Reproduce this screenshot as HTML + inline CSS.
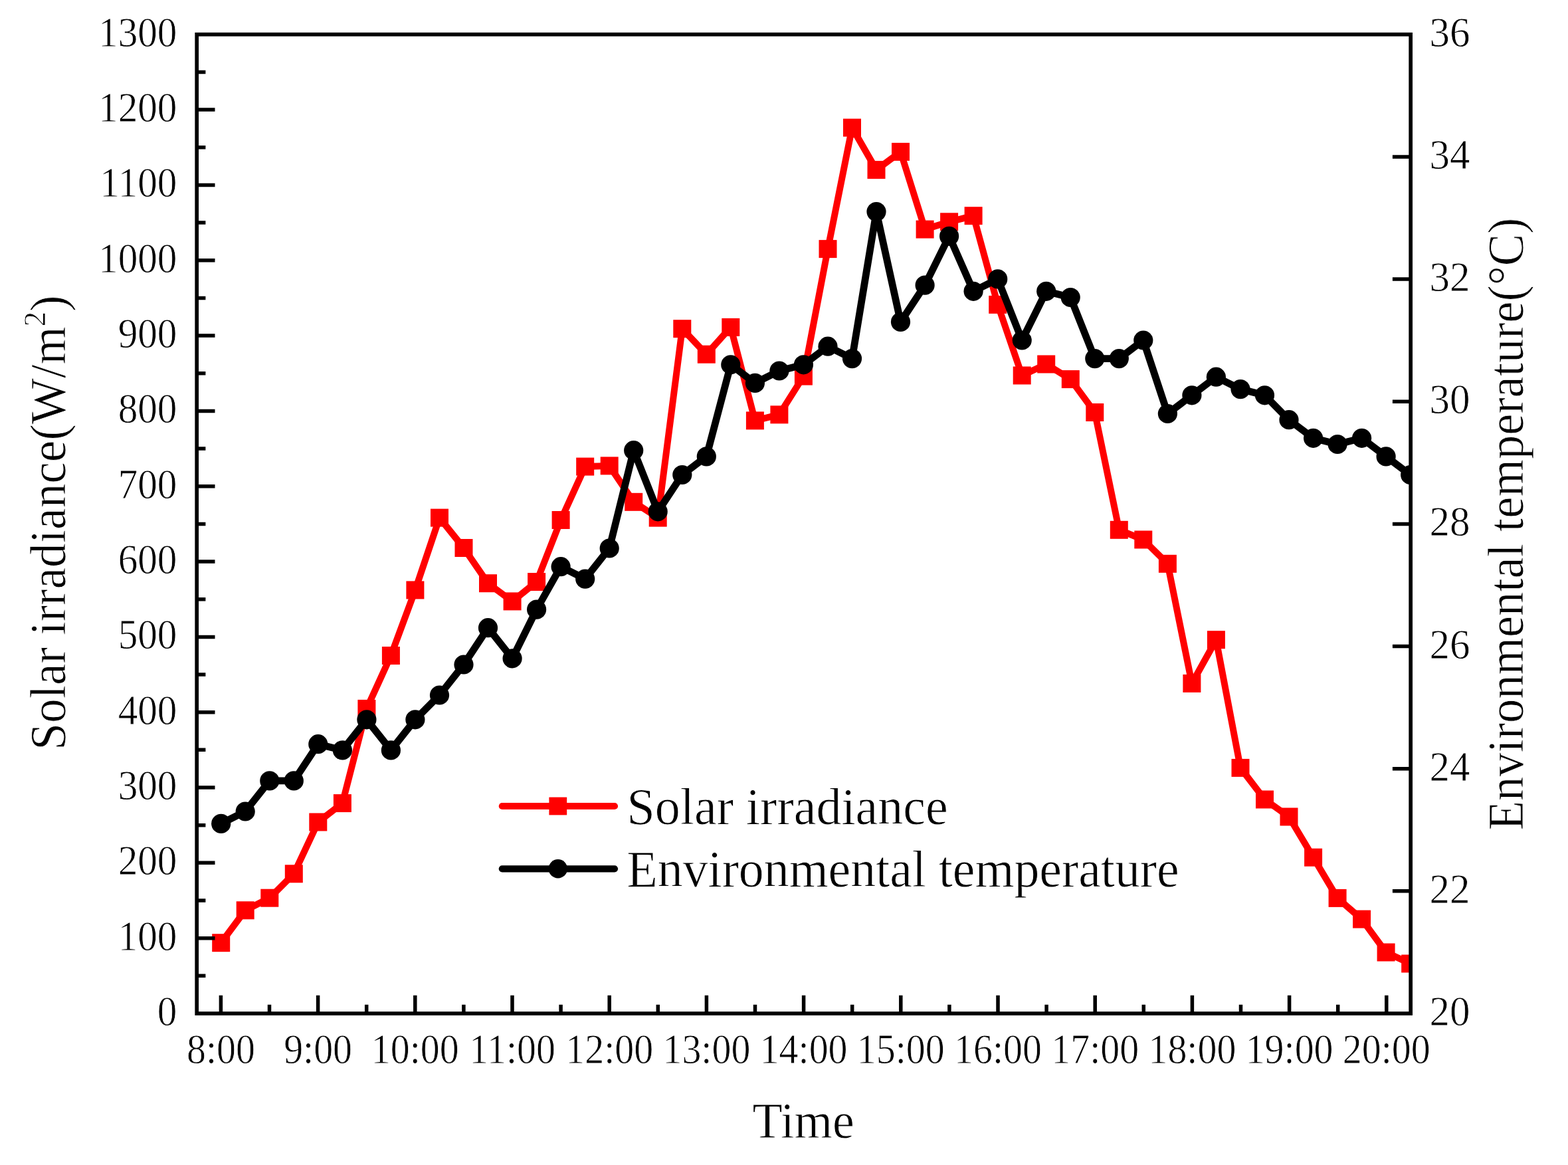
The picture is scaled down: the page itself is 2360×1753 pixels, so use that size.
<!DOCTYPE html>
<html lang="en"><head><meta charset="utf-8"><title>Solar irradiance and environmental temperature</title>
<style>html,body{margin:0;padding:0;background:#fff;}body{width:2360px;height:1753px;overflow:hidden;}svg{display:block;}text{font-family:"Liberation Serif",serif;fill:#000;}</style>
</head><body>
<svg width="2360" height="1753" viewBox="0 0 2360 1753" role="img" aria-label="Solar irradiance and environmental temperature versus time">
<rect x="0" y="0" width="2360" height="1753" fill="#fff"/>
<defs><clipPath id="plot"><rect x="296.2" y="51.8" width="1826.9999999999998" height="1473.2"/></clipPath></defs>
<g clip-path="url(#plot)">
<polyline fill="none" stroke="#ff0000" stroke-width="10.0" stroke-linejoin="round" stroke-linecap="round" points="332.7,1418.7 369.2,1369.8 405.8,1351.2 442.3,1314.8 478.8,1237.0 515.4,1208.6 551.9,1066.4 588.4,986.5 624.9,887.9 661.5,779.1 698.0,824.5 734.5,877.7 771.1,904.9 807.6,875.5 844.1,782.5 880.7,702.1 917.2,700.9 953.7,755.3 990.2,779.1 1026.8,494.7 1063.3,533.2 1099.8,492.4 1136.4,632.9 1172.9,623.9 1209.4,566.1 1246.0,374.6 1282.5,192.1 1319.0,255.6 1355.5,228.4 1392.1,345.1 1428.6,333.8 1465.1,324.7 1501.7,458.4 1538.2,565.0 1574.7,548.0 1611.2,570.6 1647.8,620.5 1684.3,797.3 1720.8,812.0 1757.4,848.3 1793.9,1028.4 1830.4,962.7 1867.0,1155.4 1903.5,1203.0 1940.0,1229.0 1976.6,1290.2 2013.1,1351.4 2049.6,1383.1 2086.1,1433.0 2122.7,1450.0"/>
<g fill="#ff0000"><rect x="319.2" y="1405.2" width="27.0" height="27.0"/><rect x="355.7" y="1356.3" width="27.0" height="27.0"/><rect x="392.3" y="1337.7" width="27.0" height="27.0"/><rect x="428.8" y="1301.3" width="27.0" height="27.0"/><rect x="465.3" y="1223.5" width="27.0" height="27.0"/><rect x="501.9" y="1195.1" width="27.0" height="27.0"/><rect x="538.4" y="1052.9" width="27.0" height="27.0"/><rect x="574.9" y="973.0" width="27.0" height="27.0"/><rect x="611.4" y="874.4" width="27.0" height="27.0"/><rect x="648.0" y="765.6" width="27.0" height="27.0"/><rect x="684.5" y="811.0" width="27.0" height="27.0"/><rect x="721.0" y="864.2" width="27.0" height="27.0"/><rect x="757.6" y="891.4" width="27.0" height="27.0"/><rect x="794.1" y="862.0" width="27.0" height="27.0"/><rect x="830.6" y="769.0" width="27.0" height="27.0"/><rect x="867.2" y="688.6" width="27.0" height="27.0"/><rect x="903.7" y="687.4" width="27.0" height="27.0"/><rect x="940.2" y="741.8" width="27.0" height="27.0"/><rect x="976.7" y="765.6" width="27.0" height="27.0"/><rect x="1013.3" y="481.2" width="27.0" height="27.0"/><rect x="1049.8" y="519.7" width="27.0" height="27.0"/><rect x="1086.3" y="478.9" width="27.0" height="27.0"/><rect x="1122.9" y="619.4" width="27.0" height="27.0"/><rect x="1159.4" y="610.4" width="27.0" height="27.0"/><rect x="1195.9" y="552.6" width="27.0" height="27.0"/><rect x="1232.5" y="361.1" width="27.0" height="27.0"/><rect x="1269.0" y="178.6" width="27.0" height="27.0"/><rect x="1305.5" y="242.1" width="27.0" height="27.0"/><rect x="1342.0" y="214.9" width="27.0" height="27.0"/><rect x="1378.6" y="331.6" width="27.0" height="27.0"/><rect x="1415.1" y="320.3" width="27.0" height="27.0"/><rect x="1451.6" y="311.2" width="27.0" height="27.0"/><rect x="1488.2" y="444.9" width="27.0" height="27.0"/><rect x="1524.7" y="551.5" width="27.0" height="27.0"/><rect x="1561.2" y="534.5" width="27.0" height="27.0"/><rect x="1597.8" y="557.1" width="27.0" height="27.0"/><rect x="1634.3" y="607.0" width="27.0" height="27.0"/><rect x="1670.8" y="783.8" width="27.0" height="27.0"/><rect x="1707.3" y="798.5" width="27.0" height="27.0"/><rect x="1743.9" y="834.8" width="27.0" height="27.0"/><rect x="1780.4" y="1014.9" width="27.0" height="27.0"/><rect x="1816.9" y="949.2" width="27.0" height="27.0"/><rect x="1853.5" y="1141.9" width="27.0" height="27.0"/><rect x="1890.0" y="1189.5" width="27.0" height="27.0"/><rect x="1926.5" y="1215.5" width="27.0" height="27.0"/><rect x="1963.1" y="1276.7" width="27.0" height="27.0"/><rect x="1999.6" y="1337.9" width="27.0" height="27.0"/><rect x="2036.1" y="1369.6" width="27.0" height="27.0"/><rect x="2072.6" y="1419.5" width="27.0" height="27.0"/><rect x="2109.2" y="1436.5" width="27.0" height="27.0"/></g>
<polyline fill="none" stroke="#000" stroke-width="10.8" stroke-linejoin="round" stroke-linecap="round" points="332.7,1239.4 369.2,1221.0 405.8,1174.9 442.3,1174.9 478.8,1119.7 515.4,1128.9 551.9,1082.8 588.4,1128.9 624.9,1082.8 661.5,1046.0 698.0,1000.0 734.5,944.7 771.1,990.8 807.6,917.1 844.1,852.7 880.7,871.1 917.2,825.0 953.7,677.7 990.2,769.8 1026.8,714.5 1063.3,686.9 1099.8,548.8 1136.4,576.4 1172.9,558.0 1209.4,548.8 1246.0,521.2 1282.5,539.6 1319.0,318.6 1355.5,484.4 1392.1,429.1 1428.6,355.4 1465.1,438.3 1501.7,419.9 1538.2,512.0 1574.7,438.3 1611.2,447.5 1647.8,539.6 1684.3,539.6 1720.8,512.0 1757.4,622.5 1793.9,594.8 1830.4,567.2 1867.0,585.6 1903.5,594.8 1940.0,631.7 1976.6,659.3 2013.1,668.5 2049.6,659.3 2086.1,686.9 2122.7,714.5"/>
<g fill="#000"><circle cx="332.7" cy="1239.4" r="14.6"/><circle cx="369.2" cy="1221.0" r="14.6"/><circle cx="405.8" cy="1174.9" r="14.6"/><circle cx="442.3" cy="1174.9" r="14.6"/><circle cx="478.8" cy="1119.7" r="14.6"/><circle cx="515.4" cy="1128.9" r="14.6"/><circle cx="551.9" cy="1082.8" r="14.6"/><circle cx="588.4" cy="1128.9" r="14.6"/><circle cx="624.9" cy="1082.8" r="14.6"/><circle cx="661.5" cy="1046.0" r="14.6"/><circle cx="698.0" cy="1000.0" r="14.6"/><circle cx="734.5" cy="944.7" r="14.6"/><circle cx="771.1" cy="990.8" r="14.6"/><circle cx="807.6" cy="917.1" r="14.6"/><circle cx="844.1" cy="852.7" r="14.6"/><circle cx="880.7" cy="871.1" r="14.6"/><circle cx="917.2" cy="825.0" r="14.6"/><circle cx="953.7" cy="677.7" r="14.6"/><circle cx="990.2" cy="769.8" r="14.6"/><circle cx="1026.8" cy="714.5" r="14.6"/><circle cx="1063.3" cy="686.9" r="14.6"/><circle cx="1099.8" cy="548.8" r="14.6"/><circle cx="1136.4" cy="576.4" r="14.6"/><circle cx="1172.9" cy="558.0" r="14.6"/><circle cx="1209.4" cy="548.8" r="14.6"/><circle cx="1246.0" cy="521.2" r="14.6"/><circle cx="1282.5" cy="539.6" r="14.6"/><circle cx="1319.0" cy="318.6" r="14.6"/><circle cx="1355.5" cy="484.4" r="14.6"/><circle cx="1392.1" cy="429.1" r="14.6"/><circle cx="1428.6" cy="355.4" r="14.6"/><circle cx="1465.1" cy="438.3" r="14.6"/><circle cx="1501.7" cy="419.9" r="14.6"/><circle cx="1538.2" cy="512.0" r="14.6"/><circle cx="1574.7" cy="438.3" r="14.6"/><circle cx="1611.2" cy="447.5" r="14.6"/><circle cx="1647.8" cy="539.6" r="14.6"/><circle cx="1684.3" cy="539.6" r="14.6"/><circle cx="1720.8" cy="512.0" r="14.6"/><circle cx="1757.4" cy="622.5" r="14.6"/><circle cx="1793.9" cy="594.8" r="14.6"/><circle cx="1830.4" cy="567.2" r="14.6"/><circle cx="1867.0" cy="585.6" r="14.6"/><circle cx="1903.5" cy="594.8" r="14.6"/><circle cx="1940.0" cy="631.7" r="14.6"/><circle cx="1976.6" cy="659.3" r="14.6"/><circle cx="2013.1" cy="668.5" r="14.6"/><circle cx="2049.6" cy="659.3" r="14.6"/><circle cx="2086.1" cy="686.9" r="14.6"/><circle cx="2122.7" cy="714.5" r="14.6"/></g>
</g>
<g stroke="#000" stroke-width="5.7" fill="none" stroke-linecap="butt">
<rect x="296.2" y="51.8" width="1826.9999999999998" height="1473.2"/>
<path stroke-width="5.5" d="M296.2 1468.34h13.2M296.2 1411.68h27.3M296.2 1355.02h13.2M296.2 1298.35h27.3M296.2 1241.69h13.2M296.2 1185.03h27.3M296.2 1128.37h13.2M296.2 1071.71h27.3M296.2 1015.05h13.2M296.2 958.38h27.3M296.2 901.72h13.2M296.2 845.06h27.3M296.2 788.40h13.2M296.2 731.74h27.3M296.2 675.08h13.2M296.2 618.42h27.3M296.2 561.75h13.2M296.2 505.09h27.3M296.2 448.43h13.2M296.2 391.77h27.3M296.2 335.11h13.2M296.2 278.45h27.3M296.2 221.78h13.2M296.2 165.12h27.3M296.2 108.46h13.2M2123.2 1340.85h-27.3M2123.2 1156.70h-27.3M2123.2 972.55h-27.3M2123.2 788.40h-27.3M2123.2 604.25h-27.3M2123.2 420.10h-27.3M2123.2 235.95h-27.3M332.40 1525.0v-27.3M405.50 1525.0v-13.2M478.60 1525.0v-27.3M551.70 1525.0v-13.2M624.80 1525.0v-27.3M697.90 1525.0v-13.2M771.00 1525.0v-27.3M844.10 1525.0v-13.2M917.20 1525.0v-27.3M990.30 1525.0v-13.2M1063.40 1525.0v-27.3M1136.50 1525.0v-13.2M1209.60 1525.0v-27.3M1282.70 1525.0v-13.2M1355.80 1525.0v-27.3M1428.90 1525.0v-13.2M1502.00 1525.0v-27.3M1575.10 1525.0v-13.2M1648.20 1525.0v-27.3M1721.30 1525.0v-13.2M1794.40 1525.0v-27.3M1867.50 1525.0v-13.2M1940.60 1525.0v-27.3M2013.70 1525.0v-13.2M2086.80 1525.0v-27.3"/>
</g>
<g>
<text transform="translate(266.40 1543.00) scale(0.925 1.0)" font-size="64.0" text-anchor="end" stroke="#fff" stroke-width="0.8">0</text>
<text transform="translate(266.40 1429.68) scale(0.925 1.0)" font-size="64.0" text-anchor="end" stroke="#fff" stroke-width="0.8">100</text>
<text transform="translate(266.40 1316.35) scale(0.925 1.0)" font-size="64.0" text-anchor="end" stroke="#fff" stroke-width="0.8">200</text>
<text transform="translate(266.40 1203.03) scale(0.925 1.0)" font-size="64.0" text-anchor="end" stroke="#fff" stroke-width="0.8">300</text>
<text transform="translate(266.40 1089.71) scale(0.925 1.0)" font-size="64.0" text-anchor="end" stroke="#fff" stroke-width="0.8">400</text>
<text transform="translate(266.40 976.38) scale(0.925 1.0)" font-size="64.0" text-anchor="end" stroke="#fff" stroke-width="0.8">500</text>
<text transform="translate(266.40 863.06) scale(0.925 1.0)" font-size="64.0" text-anchor="end" stroke="#fff" stroke-width="0.8">600</text>
<text transform="translate(266.40 749.74) scale(0.925 1.0)" font-size="64.0" text-anchor="end" stroke="#fff" stroke-width="0.8">700</text>
<text transform="translate(266.40 636.42) scale(0.925 1.0)" font-size="64.0" text-anchor="end" stroke="#fff" stroke-width="0.8">800</text>
<text transform="translate(266.40 523.09) scale(0.925 1.0)" font-size="64.0" text-anchor="end" stroke="#fff" stroke-width="0.8">900</text>
<text transform="translate(266.40 409.77) scale(0.925 1.0)" font-size="64.0" text-anchor="end" stroke="#fff" stroke-width="0.8">1000</text>
<text transform="translate(266.40 296.45) scale(0.925 1.0)" font-size="64.0" text-anchor="end" stroke="#fff" stroke-width="0.8">1100</text>
<text transform="translate(266.40 183.12) scale(0.925 1.0)" font-size="64.0" text-anchor="end" stroke="#fff" stroke-width="0.8">1200</text>
<text transform="translate(266.40 69.80) scale(0.925 1.0)" font-size="64.0" text-anchor="end" stroke="#fff" stroke-width="0.8">1300</text>
<text transform="translate(2151.50 1543.00) scale(0.955 1.0)" font-size="64.0" text-anchor="start" stroke="#fff" stroke-width="0.8">20</text>
<text transform="translate(2151.50 1358.85) scale(0.955 1.0)" font-size="64.0" text-anchor="start" stroke="#fff" stroke-width="0.8">22</text>
<text transform="translate(2151.50 1174.70) scale(0.955 1.0)" font-size="64.0" text-anchor="start" stroke="#fff" stroke-width="0.8">24</text>
<text transform="translate(2151.50 990.55) scale(0.955 1.0)" font-size="64.0" text-anchor="start" stroke="#fff" stroke-width="0.8">26</text>
<text transform="translate(2151.50 806.40) scale(0.955 1.0)" font-size="64.0" text-anchor="start" stroke="#fff" stroke-width="0.8">28</text>
<text transform="translate(2151.50 622.25) scale(0.955 1.0)" font-size="64.0" text-anchor="start" stroke="#fff" stroke-width="0.8">30</text>
<text transform="translate(2151.50 438.10) scale(0.955 1.0)" font-size="64.0" text-anchor="start" stroke="#fff" stroke-width="0.8">32</text>
<text transform="translate(2151.50 253.95) scale(0.955 1.0)" font-size="64.0" text-anchor="start" stroke="#fff" stroke-width="0.8">34</text>
<text transform="translate(2151.50 69.80) scale(0.955 1.0)" font-size="64.0" text-anchor="start" stroke="#fff" stroke-width="0.8">36</text>
<text transform="translate(332.40 1599.80) scale(0.905 1.0)" font-size="64.0" text-anchor="middle" stroke="#fff" stroke-width="0.8">8:00</text>
<text transform="translate(478.60 1599.80) scale(0.905 1.0)" font-size="64.0" text-anchor="middle" stroke="#fff" stroke-width="0.8">9:00</text>
<text transform="translate(624.80 1599.80) scale(0.905 1.0)" font-size="64.0" text-anchor="middle" stroke="#fff" stroke-width="0.8">10:00</text>
<text transform="translate(771.00 1599.80) scale(0.905 1.0)" font-size="64.0" text-anchor="middle" stroke="#fff" stroke-width="0.8">11:00</text>
<text transform="translate(917.20 1599.80) scale(0.905 1.0)" font-size="64.0" text-anchor="middle" stroke="#fff" stroke-width="0.8">12:00</text>
<text transform="translate(1063.40 1599.80) scale(0.905 1.0)" font-size="64.0" text-anchor="middle" stroke="#fff" stroke-width="0.8">13:00</text>
<text transform="translate(1209.60 1599.80) scale(0.905 1.0)" font-size="64.0" text-anchor="middle" stroke="#fff" stroke-width="0.8">14:00</text>
<text transform="translate(1355.80 1599.80) scale(0.905 1.0)" font-size="64.0" text-anchor="middle" stroke="#fff" stroke-width="0.8">15:00</text>
<text transform="translate(1502.00 1599.80) scale(0.905 1.0)" font-size="64.0" text-anchor="middle" stroke="#fff" stroke-width="0.8">16:00</text>
<text transform="translate(1648.20 1599.80) scale(0.905 1.0)" font-size="64.0" text-anchor="middle" stroke="#fff" stroke-width="0.8">17:00</text>
<text transform="translate(1794.40 1599.80) scale(0.905 1.0)" font-size="64.0" text-anchor="middle" stroke="#fff" stroke-width="0.8">18:00</text>
<text transform="translate(1940.60 1599.80) scale(0.905 1.0)" font-size="64.0" text-anchor="middle" stroke="#fff" stroke-width="0.8">19:00</text>
<text transform="translate(2086.80 1599.80) scale(0.905 1.0)" font-size="64.0" text-anchor="middle" stroke="#fff" stroke-width="0.8">20:00</text>
</g>
<text transform="translate(1209.10 1711.60) scale(0.972 1.0)" font-size="76" text-anchor="middle" stroke="#fff" stroke-width="0.8">Time</text>
<text transform="translate(98.00 786.60) rotate(-90) scale(0.965 1.0)" font-size="76" text-anchor="middle" stroke="#fff" stroke-width="0.8">Solar irradiance(W/m<tspan font-size="47.1" dy="-30.4">2</tspan><tspan dy="30.4">)</tspan></text>
<text transform="translate(2292.30 788.50) rotate(-90) scale(0.955 1.0)" font-size="76" text-anchor="middle" stroke="#fff" stroke-width="0.8">Environmental temperature(°C)</text>
<g stroke-width="10.2" stroke-linecap="round">
<line x1="755.8" y1="1213.0" x2="925.0" y2="1213.0" stroke="#ff0000"/>
<line x1="755.8" y1="1307.3" x2="925.0" y2="1307.3" stroke="#000"/>
</g>
<rect x="826.4" y="1199.6" width="26.8" height="26.8" fill="#ff0000"/>
<circle cx="839.8" cy="1307.3" r="14.2" fill="#000"/>
<text transform="translate(943.50 1239.90) scale(0.981 1.0)" font-size="77.5" text-anchor="start" stroke="#fff" stroke-width="0.8">Solar irradiance</text>
<text transform="translate(943.50 1333.60) scale(0.978 1.0)" font-size="77.5" text-anchor="start" stroke="#fff" stroke-width="0.8">Environmental temperature</text>
</svg>
</body></html>
